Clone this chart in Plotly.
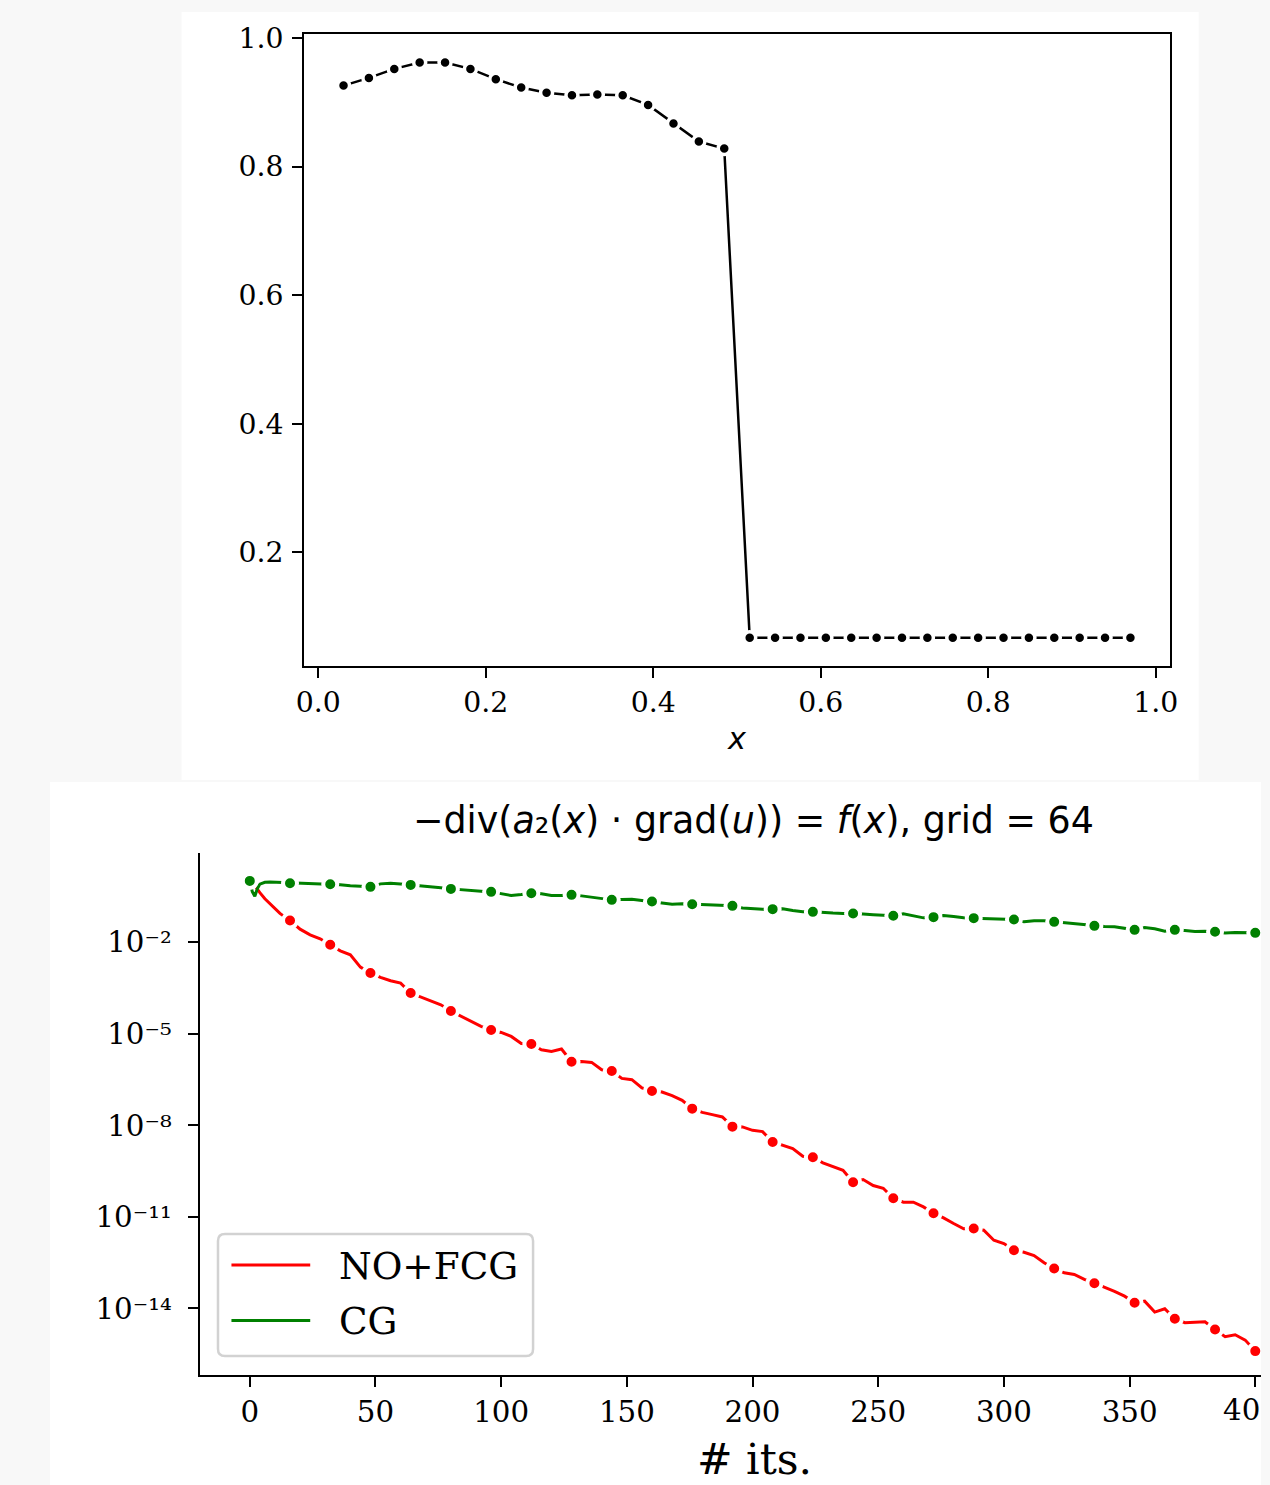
import plotly.graph_objects as go

W, H = 1270, 1485

# The photographed page comes out slightly scaled and shifted
# (picture = OFF + SCALE * page), so layout positions measured on the
# reference picture are mapped back to page coordinates here.
SX, OX = 0.9887, 6.9
SY, OY = 0.99292, 11.23
FS = 1 / SX  # font scale compensation


def fx(px):
    return ((px - OX) / SX) / W


def fy(py):
    return 1 - ((py - OY) / SY) / H


def fs(size):
    return round(size * FS, 1)


# ---------------- top panel: coefficient a2(x) ----------------
coef_x = [0.0303, 0.0606, 0.0909, 0.1212, 0.1515, 0.1818, 0.2121, 0.2424,
          0.2727, 0.3030, 0.3333, 0.3636, 0.3939, 0.4242, 0.4545, 0.4848,
          0.5152, 0.5455, 0.5758, 0.6061, 0.6364, 0.6667, 0.6970, 0.7273,
          0.7576, 0.7879, 0.8182, 0.8485, 0.8788, 0.9091, 0.9394, 0.9697]
coef_a = [0.926, 0.938, 0.952, 0.962, 0.962, 0.952, 0.936, 0.923,
          0.915, 0.911, 0.912, 0.911, 0.896, 0.867, 0.839, 0.828,
          0.067, 0.067, 0.067, 0.067, 0.067, 0.067, 0.067, 0.067,
          0.067, 0.067, 0.067, 0.067, 0.067, 0.067, 0.067, 0.067]
top_xticks = [0.0, 0.2, 0.4, 0.6, 0.8, 1.0]
top_yticks = [0.2, 0.4, 0.6, 0.8, 1.0]

# ---------------- bottom panel: residual histories (log10 of residual) ----------------
nofcg_its = [0, 1, 2, 3, 4, 6, 8, 10, 12, 14, 16, 20, 24, 28, 32, 36, 40, 44, 48,
             52, 56, 60, 64, 68, 72, 76, 80, 84, 88, 92, 96, 100, 104, 108, 112,
             116, 120, 124, 128, 132, 136, 140, 144, 148, 152, 156, 160, 164, 168,
             172, 176, 180, 184, 188, 192, 196, 200, 204, 208, 212, 216, 220, 224,
             228, 232, 236, 240, 244, 248, 252, 256, 260, 264, 268, 272, 276, 280,
             284, 288, 292, 296, 300, 304, 308, 312, 316, 320, 324, 328, 332, 336,
             340, 344, 348, 352, 356, 360, 364, 368, 372, 376, 380, 384, 388, 392,
             396, 400]
nofcg_log10_res = [0.006, -0.05, -0.15, -0.27, -0.38, -0.58, -0.74, -0.90, -1.06, -1.18,
                   -1.293, -1.575, -1.761, -1.892, -2.088, -2.285, -2.416, -2.818, -3.014,
                   -3.158, -3.266, -3.342, -3.669, -3.800, -3.931, -4.052, -4.258, -4.435,
                   -4.598, -4.762, -4.880, -4.958, -5.089, -5.320, -5.338, -5.524, -5.580,
                   -5.501, -5.917, -5.907, -5.940, -6.179, -6.221, -6.463, -6.506, -6.778,
                   -6.876, -6.909, -7.030, -7.183, -7.455, -7.576, -7.651, -7.727, -8.044,
                   -8.054, -8.165, -8.207, -8.545, -8.666, -8.764, -9.016, -9.048, -9.232,
                   -9.343, -9.474, -9.867, -9.778, -9.974, -10.063, -10.390, -10.521,
                   -10.521, -10.672, -10.881, -11.032, -11.218, -11.392, -11.381, -11.437,
                   -11.764, -11.872, -12.092, -12.157, -12.265, -12.504, -12.690, -12.831,
                   -12.887, -13.050, -13.172, -13.302, -13.443, -13.597, -13.813, -13.761,
                   -14.120, -14.009, -14.336, -14.467, -14.445, -14.434, -14.687, -14.925,
                   -14.860, -15.036, -15.397]

cg_its = [0, 1, 2, 3, 4, 6, 8, 12, 16, 20, 24, 28, 32, 36, 40, 44, 48, 52, 56, 60,
          64, 68, 72, 76, 80, 84, 88, 92, 96, 100, 104, 108, 112, 116, 120, 124, 128,
          132, 136, 140, 144, 148, 152, 156, 160, 164, 168, 172, 176, 180, 184, 188,
          192, 196, 200, 204, 208, 212, 216, 220, 224, 228, 232, 236, 240, 244, 248,
          252, 256, 260, 264, 268, 272, 276, 280, 284, 288, 292, 296, 300, 304, 308,
          312, 316, 320, 324, 328, 332, 336, 340, 344, 348, 352, 356, 360, 364, 368,
          372, 376, 380, 384, 388, 392, 396, 400]
cg_log10_res = [0.006, -0.35, -0.50, -0.25, -0.10, -0.04, -0.03, -0.04, -0.069, -0.08,
                -0.09, -0.10, -0.102, -0.12, -0.15, -0.17, -0.190, -0.092, -0.069, -0.10,
                -0.125, -0.158, -0.19, -0.22, -0.256, -0.288, -0.31, -0.332, -0.354,
                -0.42, -0.475, -0.442, -0.397, -0.419, -0.474, -0.474, -0.452, -0.485,
                -0.529, -0.583, -0.616, -0.605, -0.594, -0.637, -0.670, -0.725, -0.757,
                -0.746, -0.757, -0.77, -0.78, -0.80, -0.812, -0.88, -0.91, -0.92, -0.920,
                -0.91, -0.965, -1.008, -1.008, -1.04, -1.05, -1.06, -1.064, -1.075, -1.10,
                -1.11, -1.139, -1.075, -1.139, -1.205, -1.182, -1.128, -1.161, -1.204,
                -1.215, -1.23, -1.24, -1.25, -1.260, -1.336, -1.303, -1.303, -1.336,
                -1.358, -1.401, -1.434, -1.467, -1.489, -1.50, -1.555, -1.598, -1.52,
                -1.565, -1.64, -1.598, -1.62, -1.65, -1.64, -1.663, -1.70, -1.685,
                -1.685, -1.696]

MARK_EVERY = 16
bottom_xticks = [0, 50, 100, 150, 200, 250, 300, 350, 400]
# the last tick label ("400") is cut by the right edge of the figure: only "40" shows
bottom_xticktext = ["0", "50", "100", "150", "200", "250", "300", "350", ""]
bottom_xtick_cut = "40"
bottom_ytick_exp = [-2, -5, -8, -11, -14]

SUP = str.maketrans("0123456789-", "⁰¹²³⁴⁵⁶⁷⁸⁹⁻")

series = [
    ("NO+FCG", nofcg_its, nofcg_log10_res, "#ff0000"),
    ("CG", cg_its, cg_log10_res, "#008000"),
]

SERIF = "DejaVu Serif"
SANS = "DejaVu Sans"

fig = go.Figure()

# top panel
fig.add_trace(go.Scatter(
    x=coef_x, y=coef_a, mode="lines+markers",
    line=dict(color="black", width=2.5),
    marker=dict(color="black", size=12, line=dict(color="white", width=3.5)),
    xaxis="x", yaxis="y", showlegend=False, name="a2(x)", hoverinfo="skip",
))

# bottom panel
for name, its, logres, color in series:
    res = [10 ** v for v in logres]
    fig.add_trace(go.Scatter(
        x=its, y=res, mode="lines", name=name,
        line=dict(color=color, width=3),
        xaxis="x2", yaxis="y2", showlegend=False, hoverinfo="skip",
    ))
    mk_x = [i for i in its if i % MARK_EVERY == 0]
    mk_y = [r for i, r in zip(its, res) if i % MARK_EVERY == 0]
    fig.add_trace(go.Scatter(
        x=mk_x, y=mk_y, mode="markers", name=name,
        marker=dict(color=color, size=14, line=dict(color="white", width=4)),
        xaxis="x2", yaxis="y2", showlegend=False, hoverinfo="skip",
    ))

axis_common = dict(
    showline=True, linecolor="black", linewidth=2,
    ticks="outside", ticklen=10, tickwidth=2, tickcolor="black",
    showgrid=False, zeroline=False,
)

shapes = [
    # white figure panels on the light grey page
    dict(type="rect", xref="paper", yref="paper", x0=fx(180), x1=fx(1200),
         y0=fy(780), y1=min(1.0, fy(6)), fillcolor="white", line=dict(width=0), layer="below"),
    dict(type="rect", xref="paper", yref="paper", x0=fx(48), x1=1.0,
         y0=0.0, y1=fy(782), fillcolor="white", line=dict(width=0), layer="below"),
]

# legend box (rounded) drawn to match the matplotlib legend
lx0, lx1, ly0, ly1, r = 216.5, 532.5, 1234.5, 1356.5, 7
path = (f"M {fx(lx0 + r)} {fy(ly0)} L {fx(lx1 - r)} {fy(ly0)} "
        f"Q {fx(lx1)} {fy(ly0)} {fx(lx1)} {fy(ly0 + r)} "
        f"L {fx(lx1)} {fy(ly1 - r)} Q {fx(lx1)} {fy(ly1)} {fx(lx1 - r)} {fy(ly1)} "
        f"L {fx(lx0 + r)} {fy(ly1)} Q {fx(lx0)} {fy(ly1)} {fx(lx0)} {fy(ly1 - r)} "
        f"L {fx(lx0)} {fy(ly0 + r)} Q {fx(lx0)} {fy(ly0)} {fx(lx0 + r)} {fy(ly0)} Z")
shapes.append(dict(type="path", xref="paper", yref="paper", path=path,
                   fillcolor="rgba(255,255,255,0.8)", line=dict(color="#d2d2d2", width=2.5)))

annotations = []
legend_rows = [1265.5, 1321]
for (name, its, logres, color), yrow in zip(series, legend_rows):
    shapes.append(dict(type="line", xref="paper", yref="paper",
                       x0=fx(230), x1=fx(309), y0=fy(yrow), y1=fy(yrow),
                       line=dict(color=color, width=3)))
    annotations.append(dict(
        text=name, xref="paper", yref="paper", x=fx(336), y=fy(yrow + 1),
        xanchor="left", yanchor="middle", showarrow=False,
        font=dict(family=SERIF, size=fs(37), color="black"),
    ))

annotations.append(dict(
    text="−div(<i>a</i>₂(<i>x</i>) · grad(<i>u</i>)) = <i>f</i>(<i>x</i>), grid = 64",
    xref="paper", yref="paper", x=fx(754), y=fy(821), xanchor="center", yanchor="middle",
    showarrow=False, font=dict(family=SANS, size=fs(36), color="black"),
))
annotations.append(dict(
    text="# its.", xref="paper", yref="paper", x=fx(755), y=0.0,
    xanchor="center", yanchor="bottom", showarrow=False, borderpad=0,
    font=dict(family=SERIF, size=fs(42), color="black"),
))
annotations.append(dict(
    text=bottom_xtick_cut, xref="paper", yref="paper", x=1.0, y=fy(1411),
    xanchor="right", yanchor="middle", showarrow=False, borderpad=0,
    font=dict(family=SERIF, size=fs(29), color="black"),
))

# bottom axis in picture px: 248.4 + 2.521 * iteration
it_left = (198 - 248.4) / 2.521
it_right = (OX + SX * W - 248.4) / 2.521

fig.update_layout(
    width=W, height=H,
    margin=dict(l=0, r=0, t=0, b=0),
    paper_bgcolor="#f8f8f8",
    plot_bgcolor="white",
    showlegend=False,
    hovermode=False,
    xaxis=dict(
        domain=[fx(303), fx(1171)], range=[-0.0166, 1.0166], anchor="y",
        mirror=True, tickvals=top_xticks, tickformat=".1f",
        tickfont=dict(family=SERIF, size=fs(28), color="black"),
        title=dict(text="<i>x</i>", font=dict(family=SANS, size=fs(30), color="black"), standoff=10),
        **axis_common,
    ),
    yaxis=dict(
        domain=[fy(666), fy(33)], range=[0.0227, 1.0067], anchor="x",
        mirror=True, tickvals=top_yticks, tickformat=".1f", ticklabelstandoff=3,
        tickfont=dict(family=SERIF, size=fs(28), color="black"),
        **axis_common,
    ),
    xaxis2=dict(
        domain=[fx(198), 1.0], range=[it_left, it_right], anchor="y2",
        tickvals=bottom_xticks, ticktext=bottom_xticktext,
        tickfont=dict(family=SERIF, size=fs(29), color="black"),
        **axis_common,
    ),
    yaxis2=dict(
        type="log", domain=[fy(1375.5), fy(853.3)], range=[-16.176, 0.912], anchor="x2",
        tickvals=[10.0 ** e for e in bottom_ytick_exp],
        ticktext=["10" + str(e).translate(SUP) for e in bottom_ytick_exp],
        ticklabelstandoff=10,
        tickfont=dict(family=SERIF, size=fs(29), color="black"),
        **axis_common,
    ),
    shapes=shapes,
    annotations=annotations,
)

fig.write_html(
    "out.html",
    config={"displayModeBar": False},
    post_script="document.body.style.margin='0';document.documentElement.style.background='#f8f8f8';document.body.style.background='#f8f8f8';",
)
